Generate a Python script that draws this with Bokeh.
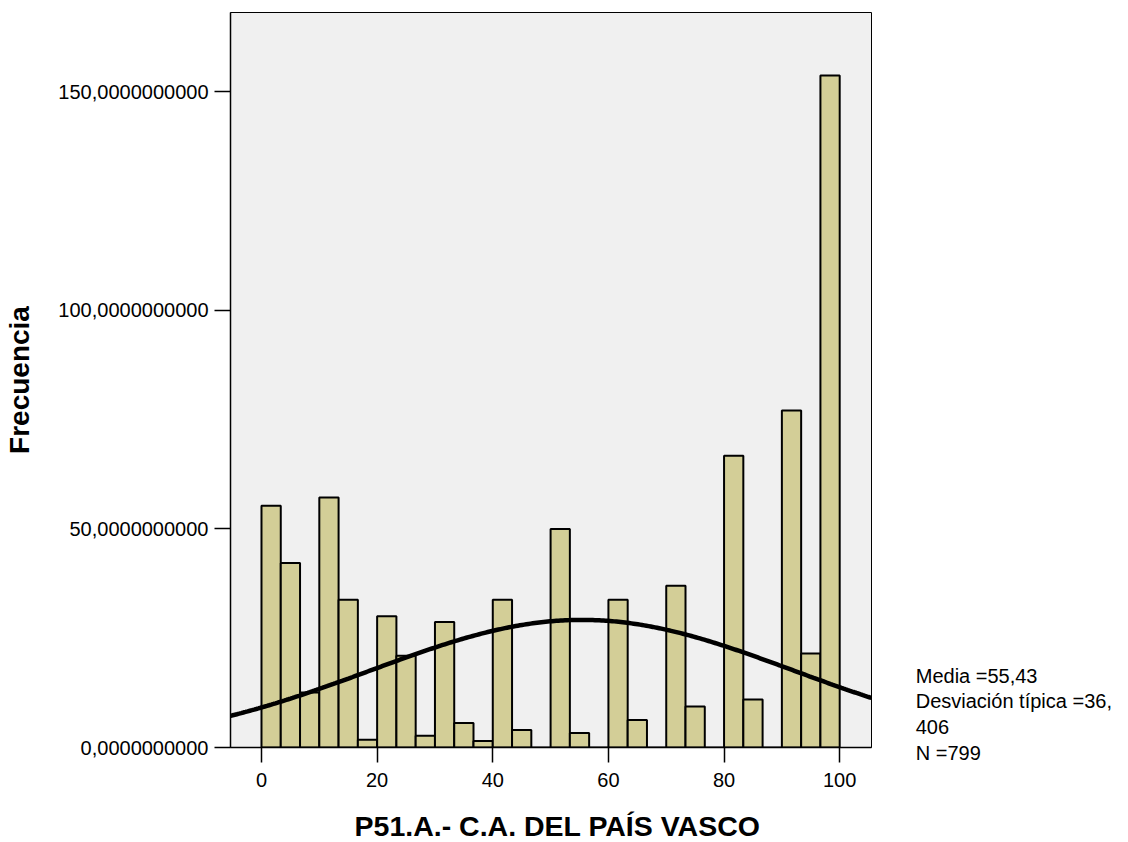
import numpy as np
from bokeh.plotting import figure
from bokeh.models import Range1d, FixedTicker, Label
from bokeh.embed import file_html
from bokeh.resources import INLINE

# ---- data ----
bin_count = 30
x_min, x_max = 0, 100
counts = [55.3, 42.2, 12.6, 57.2, 33.8, 1.8, 30.0, 21.0, 2.7, 28.7,
          5.6, 1.5, 33.8, 4.0, 0.0, 50.0, 3.3, 0.0, 33.8, 6.3,
          0.0, 37.0, 9.4, 0.0, 66.7, 11.0, 0.0, 77.1, 21.5, 153.7]
x_ticks = [0, 20, 40, 60, 80, 100]
y_ticks = [0, 50, 100, 150]
y_tick_labels = ["0,0000000000", "50,0000000000", "100,0000000000", "150,0000000000"]
mean_val = 55.43
sd_val = 36.406
n_val = 799
stats_lines = ["Media =55,43", "Desviación típica =36,", "406", "N =799"]
x_title = "P51.A.- C.A. DEL PAÍS VASCO"
y_title = "Frecuencia"

FONT = "Liberation Sans"
bar_fill = "#D3CE97"

x_lo, x_hi = -5.36, 105.5
y_lo, y_hi = 0, 168.1

TOTAL_W, TOTAL_H = 1112, 842
LEFT, TOP, FW, FH = 230, 12, 641, 735

p = figure(width=TOTAL_W, height=TOTAL_H,
           min_border_left=LEFT, min_border_top=TOP,
           min_border_right=TOTAL_W - LEFT - FW, min_border_bottom=TOTAL_H - TOP - FH,
           x_range=Range1d(x_lo, x_hi), y_range=Range1d(y_lo, y_hi),
           output_backend="svg", toolbar_location=None)
p.border_fill_color = "white"
p.background_fill_color = "#F0F0F0"
p.grid.visible = False
p.outline_line_color = "black"
p.outline_line_width = 1

bw = (x_max - x_min) / bin_count
lefts = [x_min + i * bw for i in range(bin_count)]
rights = [l + bw for l in lefts]
p.quad(left=lefts, right=rights, bottom=0, top=counts,
       fill_color=bar_fill, line_color="black", line_width=2)

xs = np.linspace(x_lo, x_hi, 300)
ys = n_val * bw / (sd_val * np.sqrt(2 * np.pi)) * np.exp(-0.5 * ((xs - mean_val) / sd_val) ** 2)
p.line(xs, ys, line_color="black", line_width=4.5)

for ax in (p.xaxis[0], p.yaxis[0]):
    ax.axis_line_color = "black"
    ax.axis_line_width = 1.5
    ax.major_tick_line_color = "black"
    ax.major_tick_line_width = 1.5
    ax.major_tick_in = 0
    ax.minor_tick_line_color = None
    ax.major_label_text_font = FONT
    ax.major_label_text_font_size = "20px"
    ax.major_label_text_color = "black"
    ax.axis_label_text_font = FONT
    ax.axis_label_text_font_size = "28px"
    ax.axis_label_text_font_style = "bold"
    ax.axis_label_text_color = "black"

xa = p.xaxis[0]
xa.ticker = FixedTicker(ticks=x_ticks)
xa.major_tick_out = 15
xa.major_label_standoff = 10

ya = p.yaxis[0]
ya.ticker = FixedTicker(ticks=y_ticks)
ya.major_label_overrides = {t: l for t, l in zip(y_ticks, y_tick_labels)}
ya.major_tick_out = 16
ya.major_label_standoff = 6
ya.axis_label = y_title
ya.axis_label_standoff = 20

px_per_unit_y = FH / (y_hi - y_lo)
px_per_unit_x = FW / (x_hi - x_lo)

# x-axis title as a label in the lower side panel (not clipped to the frame)
title_center_px = 559
title_top_px = 809
p.add_layout(Label(x=x_lo + (title_center_px - (LEFT + 2)) / px_per_unit_x,
                   y=(TOP + FH - title_top_px) / px_per_unit_y,
                   text=x_title, text_font=FONT, text_font_size="28.5px",
                   text_font_style="bold", text_color="black",
                   text_baseline="top", text_align="center"), "below")

# statistics text: one multi-line label in the right side panel
stats_x = 113.15
stats_top_px = 664
p.add_layout(Label(x=stats_x, y=(TOP + FH - stats_top_px) / px_per_unit_y,
                   text="\n".join(stats_lines), text_font=FONT,
                   text_font_size="20px", text_color="black", text_line_height=1.18,
                   text_baseline="top", text_align="left"), "right")

open("out.html", "w").write(file_html(p, INLINE))
